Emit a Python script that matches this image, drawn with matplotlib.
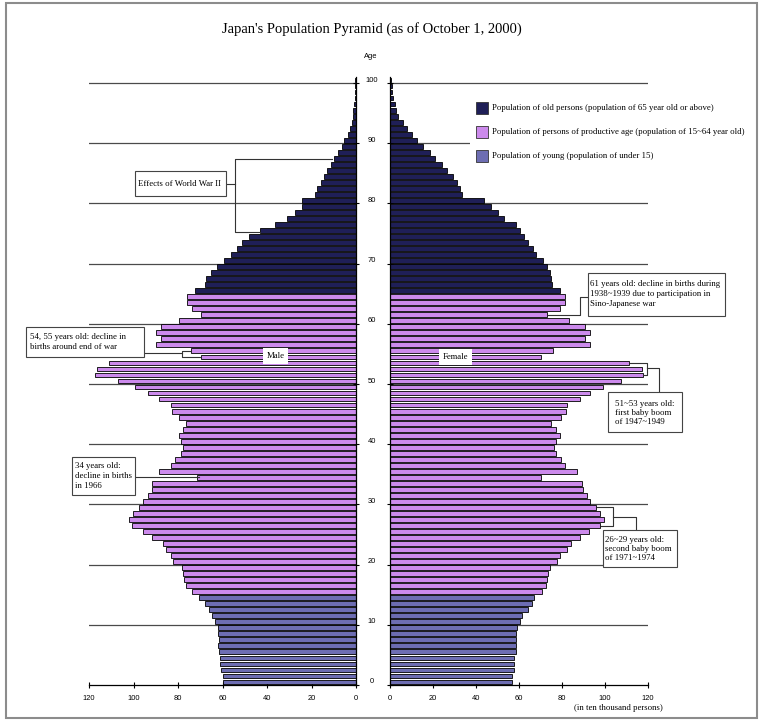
import numpy as np
import matplotlib
matplotlib.use("Agg")
import matplotlib.pyplot as plt
import matplotlib.transforms as mtransforms
from matplotlib.patches import Rectangle
from matplotlib.lines import Line2D

# ---------------- data (in ten thousand persons) ----------------
ages = np.arange(0, 101)
male = [60.0, 60.0, 60.5, 61.0, 61.0, 61.5, 62.0, 61.5, 62.0, 62.0,
        63.5, 64.5, 66.0, 68.0, 70.5, 73.7, 76.4, 77.3, 77.6, 78.4,
        82.4, 83.3, 85.5, 86.9, 91.7, 95.6, 100.7, 102.2, 100.1, 97.7,
        95.6, 93.5, 91.5, 91.5, 71.3, 88.7, 83.3, 81.2, 78.8, 77.6,
        78.5, 79.7, 77.9, 76.4, 79.7, 82.8, 83.3, 88.4, 93.6, 99.2,
        106.8, 117.3, 116.3, 111.0, 69.5, 74.2, 90.0, 87.5, 90.0, 87.5,
        79.4, 69.5, 73.7, 76.1, 76.1, 72.4, 67.7, 67.4, 65.2, 62.6,
        59.3, 56.3, 53.6, 51.1, 47.9, 43.1, 36.4, 31.2, 27.4, 24.4,
        24.4, 18.4, 17.4, 15.9, 14.4, 12.9, 11.2, 9.7, 7.9, 6.1,
        5.2, 3.7, 2.7, 2.0, 1.5, 1.2, 0.9, 0.6, 0.45, 0.3,
        0.3]
female = [56.8, 56.8, 57.9, 57.9, 57.9, 58.7, 58.7, 58.7, 58.8, 59.2,
          60.4, 61.6, 64.3, 66.0, 66.9, 70.5, 72.5, 73.1, 73.6, 74.3,
          77.7, 79.0, 82.4, 84.2, 88.3, 92.4, 97.6, 99.7, 97.9, 96.0,
          92.9, 91.4, 89.8, 89.5, 70.3, 87.2, 81.5, 79.6, 77.4, 76.2,
          77.4, 79.0, 77.0, 75.1, 79.4, 81.8, 82.4, 88.3, 93.1, 99.1,
          107.3, 117.7, 117.1, 111.2, 70.1, 75.9, 92.9, 90.7, 92.9, 90.9,
          83.3, 73.1, 79.0, 81.4, 81.4, 79.0, 75.4, 75.1, 74.3, 72.8,
          71.2, 68.1, 66.6, 64.3, 62.2, 60.4, 58.5, 53.0, 50.3, 47.2,
          43.8, 33.3, 32.5, 31.3, 29.1, 26.3, 24.0, 20.9, 18.6, 15.2,
          12.4, 10.0, 7.7, 5.9, 3.9, 3.0, 2.2, 1.5, 1.0, 0.7,
          0.6]
young_limit = 15      # under 15
old_limit = 65        # 65 and above
group_labels = ["Population of old persons (population of 65 year old or above)",
                "Population of persons of productive age (population of 15~64 year old)",
                "Population of young (population of under 15)"]
value_ticks = [0, 20, 40, 60, 80, 100, 120]
age_ticks = [0, 10, 20, 30, 40, 50, 60, 70, 80, 90, 100]

C_OLD = "#1f1f57"
C_PROD = "#cc8aec"
C_YOUNG = "#6d6db2"
group_colors = [C_OLD, C_PROD, C_YOUNG]

SERIF = ["Liberation Serif", "DejaVu Serif"]
SANS = ["Liberation Sans", "DejaVu Sans"]

W, H = 763, 722
fig = plt.figure(figsize=(W / 100, H / 100), dpi=100)
fig.patch.set_facecolor("white")


def fx(x):
    return x / W


def fy(y):
    return 1 - y / H


bar_colors = [C_YOUNG if a < young_limit else (C_PROD if a < old_limit else C_OLD) for a in ages]

AX_TOP, AX_BOT = 77, 685
axm = fig.add_axes([fx(89), fy(AX_BOT), (356 - 89) / W, (AX_BOT - AX_TOP) / H])
axf = fig.add_axes([fx(390), fy(AX_BOT), (648 - 390) / W, (AX_BOT - AX_TOP) / H])

for ax, vals in ((axm, male), (axf, female)):
    ax.barh(ages + 0.5, vals, height=0.8, color=bar_colors,
            edgecolor="black", linewidth=0.6, zorder=2)
    for a in age_ticks[1:]:
        ax.axhline(a, color="#4a4a4a", lw=0.9, zorder=1)
    ax.set_ylim(0, 101)
    ax.set_xticks(value_ticks)
    ax.set_yticks(age_ticks)
    ax.set_yticklabels([])
    ax.spines["top"].set_visible(False)
    for s in ax.spines.values():
        s.set_linewidth(0.9)
    ax.tick_params(axis="x", direction="inout", length=4, width=0.8,
                   labelsize=5.4, pad=5.5)
    ax.tick_params(axis="y", direction="inout", length=4, width=0.8)
    for lab in ax.get_xticklabels():
        lab.set_fontfamily(SANS)
    ax.set_facecolor("none")

axm.set_xlim(120, 0)
axm.spines["left"].set_visible(False)
axm.yaxis.tick_right()
axf.set_xlim(0, 120)
axf.spines["right"].set_visible(False)
axf.yaxis.tick_left()

# age labels between halves
tr = mtransforms.blended_transform_factory(fig.transFigure, axm.transData)
for a in age_ticks:
    fig.text(fx(372), a + 0.5, str(a), transform=tr, ha="center", va="center",
             fontsize=5.4, family=SANS)
fig.text(fx(371), fy(57), "Age", ha="center", va="center", fontsize=5.4, family=SANS)

# title
fig.text(fx(372), fy(29), "Japan's Population Pyramid (as of October 1, 2000)",
         ha="center", va="center", fontsize=10.5, family=SERIF)
fig.text(fx(618), fy(708), "(in ten thousand persons)", ha="center", va="center",
         fontsize=6.3, family=SERIF)

# legend
fig.add_artist(Rectangle((fx(470), fy(168)), (750 - 470) / W, (168 - 95) / H,
                         transform=fig.transFigure, facecolor="white", edgecolor="none", zorder=1))
for i, (lab, col) in enumerate(zip(group_labels, group_colors)):
    yc = 108 + 24 * i
    fig.add_artist(Rectangle((fx(476), fy(yc + 6)), 12 / W, 12 / H, transform=fig.transFigure,
                             facecolor=col, edgecolor="#333333", lw=0.6, zorder=2))
    fig.text(fx(492), fy(yc), lab, ha="left", va="center", fontsize=6.3, family=SERIF, zorder=3)


def line(pts):
    xs = [fx(p[0]) for p in pts]
    ys = [fy(p[1]) for p in pts]
    fig.add_artist(Line2D(xs, ys, transform=fig.transFigure, color="#333333", lw=0.8, zorder=2))


def box(x0, y0, x1, y1, text, tx, ty):
    fig.add_artist(Rectangle((fx(x0), fy(y1)), (x1 - x0) / W, (y1 - y0) / H,
                             transform=fig.transFigure, facecolor="white",
                             edgecolor="#444444", lw=0.8, zorder=2))
    fig.text(fx(tx), fy(ty), text, ha="left", va="center", fontsize=6.3,
             family=SERIF, linespacing=1.25, zorder=3)


# Effects of World War II
line([(226, 184), (235, 184)])
line([(332, 159), (235, 159), (235, 232), (260, 232)])
box(135, 171, 226, 196, "Effects of World War II", 138, 184)

# 54, 55 years old
line([(144, 353), (182, 353)])
line([(190, 351), (182, 351), (182, 357), (200, 357)])
box(26, 327, 144, 357, "54, 55 years old: decline in\nbirths around end of war", 30, 342)

# 34 years old
line([(135, 477), (199, 477)])
box(72, 457, 135, 495, "34 years old:\ndecline in births\nin 1966", 75, 476)

# 61 years old
line([(588, 297), (580, 297), (580, 315), (548, 315)])
box(588, 273, 725, 316, "61 years old: decline in births during\n1938~1939 due to participation in\nSino-Japanese war", 590, 294)

# 51~53 first baby boom
line([(630, 363), (647, 363), (647, 375), (643, 375)])
line([(647, 368), (659, 368), (659, 392)])
box(608, 392, 682, 432, "51~53 years old:\nfirst baby boom\nof 1947~1949", 615, 413)

# 26~29 second baby boom
line([(597, 507), (613, 507), (613, 526), (601, 526)])
line([(613, 517), (636, 517), (636, 530)])
box(603, 530, 677, 567, "26~29 years old:\nsecond baby boom\nof 1971~1974", 605, 549)

# Male / Female labels
for txt, x, y in (("Male", 275.5, 356), ("Female", 455.5, 357)):
    fig.text(fx(x), fy(y), txt, ha="center", va="center", fontsize=6.2, family=SERIF,
             bbox=dict(boxstyle="square,pad=0.45", facecolor="white", edgecolor="none"), zorder=3)

# outer frame
fig.add_artist(Rectangle((fx(6), fy(718)), (757 - 6) / W, (718 - 3) / H, transform=fig.transFigure,
                         fill=False, edgecolor="#8c8c8c", lw=1.5, zorder=4))

fig.savefig("out.png", dpi=100)
